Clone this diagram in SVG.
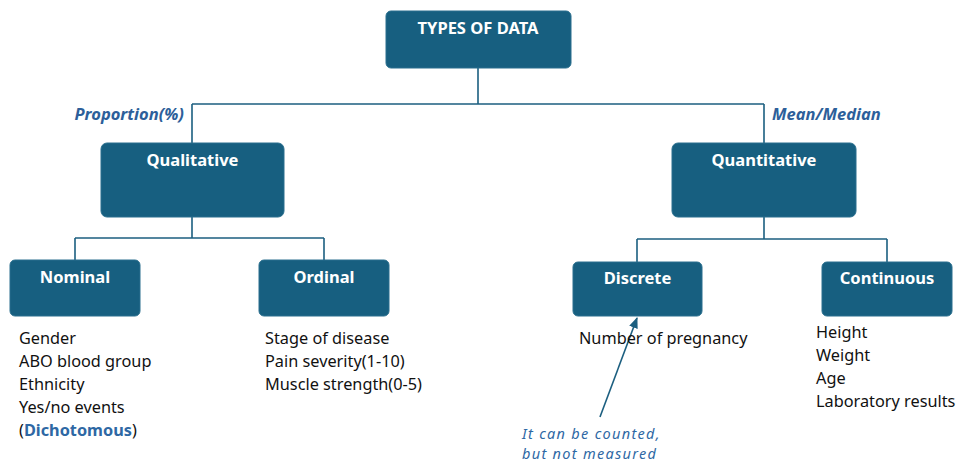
<svg xmlns="http://www.w3.org/2000/svg" width="958" height="463" viewBox="0 0 958 463">
<defs>
<style>
.box{fill:#175f80;stroke:#2a6f8e;stroke-width:1}
.bt{font-family:"Noto Sans","Liberation Sans",sans-serif;font-weight:bold;font-size:16.5px;fill:#ffffff;text-anchor:middle}
.conn{fill:none;stroke:#1c5f80;stroke-width:1.6}
.lbl{font-family:"Noto Sans","Liberation Sans",sans-serif;font-weight:bold;font-style:italic;font-size:16.5px;fill:#2d5f9a}
.body{font-family:"Noto Sans","Liberation Sans",sans-serif;font-size:16.3px;fill:#111111}
.note{font-family:"Noto Sans","Liberation Sans",sans-serif;font-style:italic;font-size:14.5px;letter-spacing:1.3px;fill:#2e68a4}
</style>
<marker id="ah" viewBox="0 0 10 10" refX="9" refY="5" markerWidth="7" markerHeight="7" orient="auto-start-reverse">
<path d="M0,1 L10,5 L0,9 z" fill="#1c5f80"/>
</marker>
</defs>
<g id="connectors">
<path class="conn" d="M478,68 V104 M192,104 H764 M192,104 V143 M764,104 V143"/>
<path class="conn" d="M192,217 V238 M75,238 H324 M75,238 V260 M324,238 V260"/>
<path class="conn" d="M764,217 V239 M637,239 H887 M637,239 V262 M887,239 V262"/>
<line class="conn" x1="600" y1="417" x2="637" y2="318" marker-end="url(#ah)"/>
</g>
<g id="types">
<rect class="box" x="386" y="11" width="185" height="57" rx="5"/>
<text class="bt" x="478" y="34">TYPES OF DATA</text>
</g>
<g id="qualitative">
<rect class="box" x="101" y="143" width="183" height="74" rx="6"/>
<text class="bt" x="192.5" y="166">Qualitative</text>
</g>
<g id="quantitative">
<rect class="box" x="672" y="143" width="184" height="74" rx="6"/>
<text class="bt" x="764" y="166">Quantitative</text>
</g>
<g id="nominal">
<rect class="box" x="10" y="260" width="130" height="56" rx="5"/>
<text class="bt" x="75" y="283">Nominal</text>
</g>
<g id="ordinal">
<rect class="box" x="259" y="260" width="130" height="56" rx="5"/>
<text class="bt" x="324" y="283">Ordinal</text>
</g>
<g id="discrete">
<rect class="box" x="573" y="262" width="129" height="54" rx="5"/>
<text class="bt" x="637.5" y="284">Discrete</text>
</g>
<g id="continuous">
<rect class="box" x="822" y="262" width="130" height="54" rx="5"/>
<text class="bt" x="887" y="284">Continuous</text>
</g>
<g id="labels">
<text class="lbl" x="184" y="120" text-anchor="end">Proportion(%)</text>
<text class="lbl" x="772" y="120">Mean/Median</text>
</g>
<g id="nominal-list" class="body">
<text x="19" y="344">Gender</text>
<text x="19" y="367">ABO blood group</text>
<text x="19" y="390">Ethnicity</text>
<text x="19" y="413">Yes/no events</text>
<text x="19" y="436">(<tspan font-weight="bold" fill="#2e68a4">Dichotomous</tspan>)</text>
</g>
<g id="ordinal-list" class="body">
<text x="265" y="344">Stage of disease</text>
<text x="265" y="367">Pain severity(1-10)</text>
<text x="265" y="390">Muscle strength(0-5)</text>
</g>
<g id="discrete-list" class="body">
<text x="579" y="344">Number of pregnancy</text>
</g>
<g id="continuous-list" class="body">
<text x="816" y="338">Height</text>
<text x="816" y="361">Weight</text>
<text x="816" y="384">Age</text>
<text x="816" y="407">Laboratory results</text>
</g>
<g id="note">
<text class="note" x="522" y="438.5">It can be counted,</text>
<text class="note" x="522" y="458.5">but not measured</text>
</g>
</svg>
